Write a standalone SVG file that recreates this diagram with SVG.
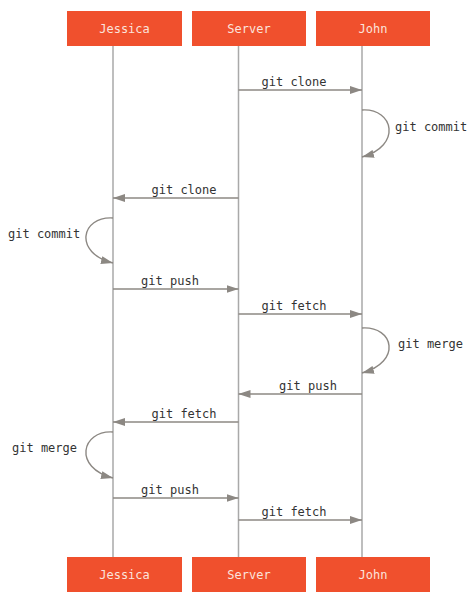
<svg xmlns="http://www.w3.org/2000/svg" width="474" height="604" viewBox="0 0 474 604">
<style>
.box{fill:#f0502d}
.bt{font-family:"DejaVu Sans Mono","Liberation Mono",monospace;font-size:12px;fill:#fbe3dc;text-anchor:middle}
.life{stroke:#a9a9a9;stroke-width:1.5;fill:none}
.msg{stroke:#8c8883;stroke-width:1.4;fill:none}
.lbl{font-family:"DejaVu Sans Mono","Liberation Mono",monospace;font-size:12px;fill:#333}
.m{text-anchor:middle}
</style>
<defs>
<marker id="ah" viewBox="0 0 12 8" refX="12" refY="4" markerWidth="12" markerHeight="8" markerUnits="userSpaceOnUse" orient="auto">
<path d="M0,0 L12,4 L0,8 Z" fill="#8c8883"/>
</marker>
</defs>
<g id="lifelines">
<line class="life" x1="113" y1="46" x2="113" y2="557"/>
<line class="life" x1="238.5" y1="46" x2="238.5" y2="557"/>
<line class="life" x1="362" y1="46" x2="362" y2="557"/>
</g>
<g id="jessica-top"><rect class="box" x="67" y="11" width="115" height="35"/><text class="bt" x="124.5" y="32.5">Jessica</text></g>
<g id="server-top"><rect class="box" x="192" y="11" width="114" height="35"/><text class="bt" x="249" y="32.5">Server</text></g>
<g id="john-top"><rect class="box" x="316" y="11" width="114" height="35"/><text class="bt" x="373" y="32.5">John</text></g>
<g id="jessica-bottom"><rect class="box" x="67" y="557" width="115" height="35"/><text class="bt" x="124.5" y="578.5">Jessica</text></g>
<g id="server-bottom"><rect class="box" x="192" y="557" width="114" height="35"/><text class="bt" x="249" y="578.5">Server</text></g>
<g id="john-bottom"><rect class="box" x="316" y="557" width="114" height="35"/><text class="bt" x="373" y="578.5">John</text></g>
<g id="connectors">
<line class="msg" x1="238.5" y1="90" x2="362" y2="90" marker-end="url(#ah)"/>
<path class="msg" d="M362,110 C394,108 402,146 362,157" marker-end="url(#ah)"/>
<line class="msg" x1="238.5" y1="198" x2="113" y2="198" marker-end="url(#ah)"/>
<path class="msg" d="M113,218 C81,216 73,253 113,263" marker-end="url(#ah)"/>
<line class="msg" x1="113" y1="289" x2="238.5" y2="289" marker-end="url(#ah)"/>
<line class="msg" x1="238.5" y1="314" x2="362" y2="314" marker-end="url(#ah)"/>
<path class="msg" d="M362,328 C394,326 402,362 362,373" marker-end="url(#ah)"/>
<line class="msg" x1="362" y1="394" x2="238.5" y2="394" marker-end="url(#ah)"/>
<line class="msg" x1="238.5" y1="422" x2="113" y2="422" marker-end="url(#ah)"/>
<path class="msg" d="M113,432 C81,430 73,468 113,478" marker-end="url(#ah)"/>
<line class="msg" x1="113" y1="498" x2="238.5" y2="498" marker-end="url(#ah)"/>
<line class="msg" x1="238.5" y1="520" x2="362" y2="520" marker-end="url(#ah)"/>
</g>
<g id="labels">
<text class="lbl m" x="294" y="86">git clone</text>
<text class="lbl" x="395" y="131">git commit</text>
<text class="lbl m" x="184" y="194">git clone</text>
<text class="lbl" x="8" y="238">git commit</text>
<text class="lbl m" x="170" y="285">git push</text>
<text class="lbl m" x="294" y="310">git fetch</text>
<text class="lbl" x="398" y="348">git merge</text>
<text class="lbl m" x="308" y="390">git push</text>
<text class="lbl m" x="184" y="418">git fetch</text>
<text class="lbl" x="12" y="452">git merge</text>
<text class="lbl m" x="170" y="494">git push</text>
<text class="lbl m" x="294" y="516">git fetch</text>
</g>
</svg>
